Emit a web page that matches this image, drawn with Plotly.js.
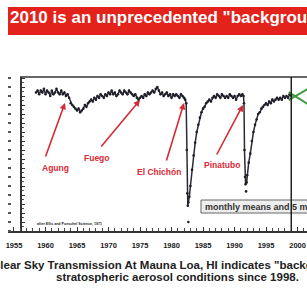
<!DOCTYPE html>
<html><head><meta charset="utf-8">
<script src="https://cdn.plot.ly/plotly-3.0.1.min.js"></script>
<style>html,body{margin:0;padding:0;background:#fff;overflow:hidden;}#chart{width:307px;height:293px;}</style>
</head><body><div id="chart"></div>
<script>
// ---- data ----
const years = [1958.5,1958.75,1959,1959.25,1959.5,1959.75,1960,1960.25,1960.5,1960.75,1961,1961.25,1961.5,1961.75,1962,1962.25,1962.5,1962.75,1963,1963.25,1963.5,1963.75,
1964,1964.25,1964.5,1964.75,1965,1965.25,1965.5,1965.75,1966,1966.25,1966.5,1966.75,1967,1967.25,1967.5,1967.75,1968,1968.25,1968.5,1968.75,
1969,1969.25,1969.5,1969.75,1970,1970.25,1970.5,1970.75,1971,1971.25,1971.5,1971.75,1972,1972.25,1972.5,1972.75,1973,1973.25,1973.5,1973.75,
1974,1974.25,1974.5,1974.75,1975,1975.25,1975.5,1975.75,1976,1976.25,1976.5,1976.75,1977,1977.25,1977.5,1977.75,1978,1978.25,1978.5,1978.75,
1979,1979.25,1979.5,1979.75,1980,1980.25,1980.5,1980.75,1981,1981.25,1981.5,1981.75,1982,1982.17,1982.33,1982.42,1982.5,1982.58,1982.67,1982.83,
1983,1983.25,1983.5,1983.75,1984,1984.25,1984.5,1984.75,1985,1985.25,1985.5,1985.75,1986,1986.25,1986.5,1986.75,1987,1987.25,1987.5,1987.75,
1988,1988.25,1988.5,1988.75,1989,1989.25,1989.5,1989.75,1990,1990.25,1990.5,1990.75,1991,1991.25,1991.42,1991.5,1991.58,1991.67,1991.75,1991.92,
1992,1992.25,1992.5,1992.75,1993,1993.25,1993.5,1993.75,1994,1994.25,1994.5,1994.75,1995,1995.25,1995.5,1995.75,1996,1996.25,1996.5,1996.75,
1997,1997.25,1997.5,1997.75,1998,1998.25,1998.5,1998.75,1999];
const transmission = [0.932,0.933,0.931,0.933,0.932,0.934,0.931,0.933,0.932,0.930,0.933,0.931,0.932,0.934,0.932,0.931,0.933,0.931,0.932,0.930,0.931,0.929,
0.926,0.925,0.924,0.923,0.922,0.923,0.921,0.922,0.923,0.925,0.924,0.926,0.927,0.928,0.927,0.929,0.928,0.930,0.929,0.931,
0.930,0.929,0.931,0.930,0.932,0.931,0.933,0.931,0.932,0.930,0.931,0.933,0.932,0.931,0.933,0.932,0.931,0.933,0.932,0.931,
0.930,0.931,0.929,0.928,0.929,0.930,0.929,0.931,0.930,0.932,0.931,0.932,0.933,0.932,0.934,0.935,0.933,0.931,0.932,0.930,
0.931,0.932,0.930,0.931,0.929,0.931,0.930,0.931,0.930,0.929,0.931,0.930,0.929,0.928,0.926,0.900,0.876,0.869,0.871,0.874,
0.880,0.889,0.897,0.904,0.910,0.914,0.918,0.921,0.923,0.924,0.926,0.927,0.928,0.927,0.929,0.930,0.929,0.931,0.930,0.929,
0.931,0.930,0.929,0.930,0.929,0.931,0.930,0.929,0.930,0.928,0.930,0.931,0.930,0.931,0.930,0.926,0.900,0.885,0.881,0.882,
0.886,0.893,0.898,0.905,0.910,0.914,0.917,0.920,0.921,0.923,0.924,0.925,0.926,0.925,0.927,0.926,0.928,0.927,0.928,0.929,
0.928,0.929,0.928,0.930,0.929,0.930,0.929,0.931,0.930];
const minYears = [1982.67, 1991.83];
const minValues = [0.860, 0.877];
const recentYearsA = [1998.6, 2001.6];
const recentValuesA = [0.9278, 0.9339];
const recentYearsB = [1998.6, 2001.6];
const recentValuesB = [0.9322, 0.9256];
const breakYear = 1999.0;
const xTickYears = [1955,1960,1965,1970,1975,1980,1985,1990,1995,2000];
const eruptions = ["Agung", "Fuego", "El Chichón", "Pinatubo"];
const titleText = '2010 is an unprecedented "background" period';
const captionLine1 = 'Clear Sky Transmission At Mauna Loa, HI indicates "background"';
const captionLine2 = 'stratospheric aerosol conditions since 1998.';
const sourceText = 'after Ellis and Pueschel Science, 1971';
const boxText = 'monthly means and 5 mo. running mean';

// ---- layout helpers (pixel -> paper) ----
const L = 8, T = 77, W = 299, H = 154;
const px = x => (x - L) / W;
const py = y => (T + H - y) / H;
const FONT = 'Liberation Sans, Arial, sans-serif';
const RED = '#d82a36';

function arrow(tx, ty, hx, hy) {
  return {xref:'paper', yref:'paper', x:px(hx), y:py(hy), ax:tx-hx, ay:ty-hy, axref:'pixel', ayref:'pixel',
    text:'', showarrow:true, arrowhead:2, arrowsize:0.8, arrowwidth:1.6, arrowcolor:RED};
}
function label(text, x, y, size, color, anchor, bold) {
  return {xref:'paper', yref:'paper', x:px(x), y:py(y), text: bold ? '<b>'+text+'</b>' : text, showarrow:false,
    xanchor:anchor||'center', yanchor:'middle', font:{family:FONT, size:size, color:color}};
}

const traces = [
  {x:years, y:transmission, type:'scatter', mode:'lines+markers',
   line:{color:'#2b2b38', width:1.5}, marker:{color:'#1e1e28', size:2.6}, hoverinfo:'skip'},
  {x:minYears, y:minValues, type:'scatter', mode:'markers', yaxis:'y2', marker:{color:'#1e1e28', size:2.6}, hoverinfo:'skip'},
  {x:recentYearsA, y:recentValuesA, type:'scatter', mode:'lines', line:{color:'#3c9a3c', width:2}, hoverinfo:'skip'},
  {x:recentYearsB, y:recentValuesB, type:'scatter', mode:'lines', line:{color:'#3c9a3c', width:2}, hoverinfo:'skip'}
];

const layout = {
  width:307, height:293, margin:{l:L, r:0, t:T, b:293-T-H, pad:0},
  paper_bgcolor:'#fff', plot_bgcolor:'#fff', showlegend:false,
  font:{family:FONT},
  xaxis:{range:[1954.05, 2001.5], tickvals:xTickYears,
    ticks:'inside', ticklen:4, tickwidth:1, tickcolor:'#333', showline:true, linecolor:'#333', linewidth:1.5,
    showgrid:false, zeroline:false, ticklabelstandoff:6,
    tickfont:{family:FONT, size:7.5, color:'#1a1a1a', weight:'bold'},
    minor:{dtick:1, ticks:'inside', ticklen:3, tickcolor:'#444', showgrid:false}},
  yaxis:{range:[0.855, 0.9406], anchor:'free', position:px(20), dtick:0.005,
    ticks:'inside', ticklen:3, tickcolor:'#333', showline:true, linecolor:'#333', linewidth:1.5,
    showgrid:false, zeroline:false, showticklabels:false,
    minor:{dtick:0.0025, ticks:'inside', ticklen:2, tickcolor:'#555', showgrid:false}},
  yaxis2:{matches:'y', overlaying:'y', anchor:'free', position:px(11), side:'left', dtick:0.005,
    ticks:'outside', ticklen:3, tickwidth:1.5, tickcolor:'#555', showline:false, showgrid:false, zeroline:false, showticklabels:false},
  shapes:[
    {type:'rect', xref:'paper', yref:'paper', x0:px(8), x1:1.1, y0:py(35), y1:py(7), fillcolor:'#e3221b', line:{width:0}, layer:'below'},
    {type:'line', xref:'paper', yref:'paper', x0:px(20), x1:1.02, y0:1, y1:1, line:{color:'#333', width:1.5}},
    {type:'rect', xref:'paper', yref:'paper', x0:px(201), x1:1.2, y0:py(213), y1:py(200), fillcolor:'#eeeeee', line:{color:'#666', width:1}},
    {type:'line', xref:'x', yref:'paper', x0:breakYear, x1:breakYear, y0:0, y1:1, line:{color:'#222', width:1.5}}
  ],
  annotations:[
    {xref:'paper', yref:'paper', x:px(8), y:py(17), xanchor:'left', yanchor:'middle', showarrow:false,
     text:'<b>'+titleText+'</b>', font:{family:FONT, size:17, color:'#fff'}},
    arrow(45,158,65,103), arrow(100,148,140,100), arrow(166,162,184,103), arrow(216,156,243,105),
    label(eruptions[0], 55, 168, 8.5, RED, 'center', true),
    label(eruptions[1], 97, 158, 8.5, RED, 'center', true),
    label(eruptions[2], 159, 172, 8.5, RED, 'center', true),
    label(eruptions[3], 222, 165, 8.5, RED, 'center', true),
    label(sourceText, 35, 224, 3.6, '#222', 'left', true),
    label(boxText, 203, 206.5, 9, '#333', 'left', true),
    label(captionLine1, 171, 265, 11.5, '#222', 'center', true),
    label(captionLine2, 177, 277, 11.5, '#222', 'center', true)
  ]
};

Plotly.newPlot('chart', traces, layout, {staticPlot:true, displayModeBar:false});
</script></body></html>
